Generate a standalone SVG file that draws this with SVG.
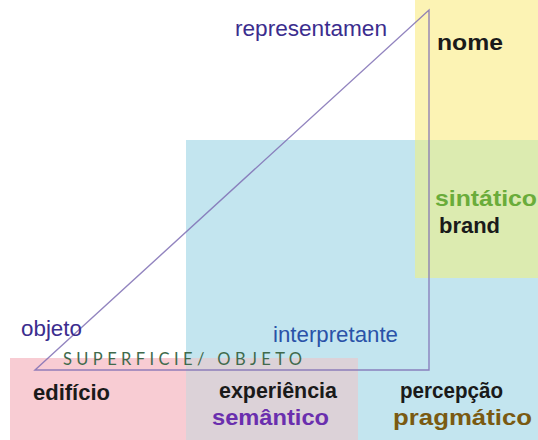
<svg xmlns="http://www.w3.org/2000/svg" width="538" height="440" viewBox="0 0 538 440">
<style>
.t{font-family:"Liberation Sans",Arial,sans-serif;font-size:22px}
.b{font-weight:bold;fill:#1a1a1a}
.pur{fill:#3b2d8e}
</style>
<rect width="538" height="440" fill="#ffffff"/>
<g id="yellow-zone">
<rect x="415" y="0" width="123" height="278" fill="#fcf3b4"/>
</g>
<g id="blue-zone">
<rect x="186" y="140" width="352" height="300" fill="#c3e5ef"/>
<rect x="415" y="140" width="123" height="138" fill="#dcebb0"/>
</g>
<g id="pink-zone">
<rect x="10" y="358" width="176" height="82" fill="#f8ccd3"/>
<rect x="186" y="358" width="172" height="82" fill="#dcd2d8"/>
</g>
<g id="connectors">
<polygon points="35,370 429,10 429,370" fill="none" stroke="#7f6fb4" stroke-width="1.4" stroke-opacity="0.85"/>
</g>
<g id="representamen"><text class="t pur" x="235" y="36" textLength="152" lengthAdjust="spacingAndGlyphs">representamen</text></g>
<g id="objeto"><text class="t pur" x="21" y="336" textLength="61" lengthAdjust="spacingAndGlyphs">objeto</text></g>
<g id="interpretante"><text class="t" fill="#2a52a8" x="273" y="342" textLength="125" lengthAdjust="spacingAndGlyphs">interpretante</text></g>
<g id="superficie"><text x="63" y="365" font-family="Lato,'Open Sans',sans-serif" font-size="16.5" fill="#3f6a4c" textLength="239" lengthAdjust="spacing">SUPERFICIE/ OBJETO</text></g>
<g id="nome"><text class="t b" x="437" y="50" textLength="66" lengthAdjust="spacingAndGlyphs">nome</text></g>
<g id="sintatico">
<text class="t" font-weight="bold" fill="#6aac3a" x="435" y="206" textLength="102" lengthAdjust="spacingAndGlyphs">sintático</text>
<text class="t b" x="439" y="233" textLength="61" lengthAdjust="spacingAndGlyphs">brand</text>
</g>
<g id="edificio"><text class="t b" x="33" y="400" textLength="77" lengthAdjust="spacingAndGlyphs">edifício</text></g>
<g id="semantico">
<text class="t b" x="219" y="398" textLength="118" lengthAdjust="spacingAndGlyphs">experiência</text>
<text class="t" font-weight="bold" fill="#6a2fae" x="212" y="425" textLength="117" lengthAdjust="spacingAndGlyphs">semântico</text>
</g>
<g id="pragmatico">
<text class="t b" x="400" y="398" textLength="103" lengthAdjust="spacingAndGlyphs">percepção</text>
<text class="t" font-weight="bold" fill="#7a5a12" x="393" y="425" textLength="139" lengthAdjust="spacingAndGlyphs">pragmático</text>
</g>
</svg>
